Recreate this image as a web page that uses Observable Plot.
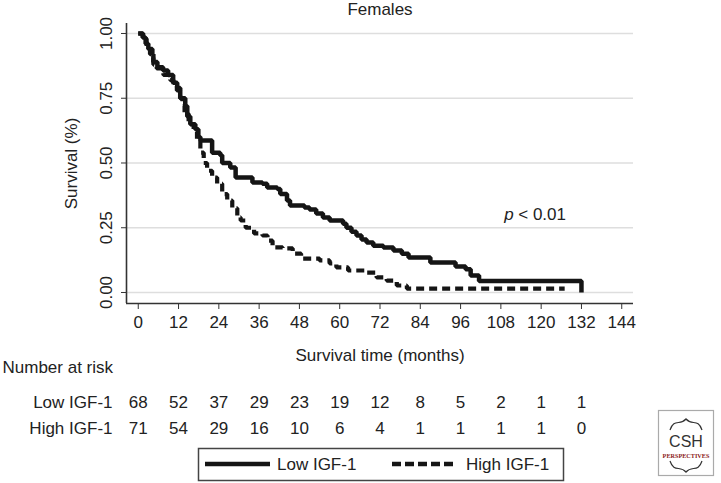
<!DOCTYPE html>
<html>
<head>
<meta charset="utf-8">
<script src="https://cdn.jsdelivr.net/npm/d3@7"></script>
<script src="https://cdn.jsdelivr.net/npm/@observablehq/plot@0.6"></script>
<style>
  html, body { margin: 0; padding: 0; background: #fff; }
  svg { display: block; }
</style>
</head>
<body>
<div id="chart"></div>
<script>
// ---- Data ----
const title = "Females";
const xLabel = "Survival time (months)";
const yLabel = "Survival (%)";
const seriesNames = ["Low IGF-1", "High IGF-1"];

// Low IGF-1 Kaplan–Meier steps (time in months, survival)
const lowTimes = [0, 1.3, 2.2, 3, 4.2, 4.5, 5.7, 7.4, 8.9, 10.4, 11.6, 12.5, 14, 14.6, 15.5, 17, 17.9, 18.5, 22, 24.4, 25, 27.4, 29, 34, 37, 38.4, 41.4, 42.3, 44.3, 45.2, 49.5, 51, 53, 55, 57, 61, 62, 63.5, 65, 66.5, 68, 70, 73, 76, 78.5, 80.5, 87, 94.5, 97.5, 99, 101.5, 132, 132];
const lowSurv  = [1, 0.985, 0.96, 0.94, 0.92, 0.89, 0.87, 0.857, 0.84, 0.81, 0.79, 0.75, 0.72, 0.68, 0.65, 0.63, 0.60, 0.587, 0.54, 0.53, 0.50, 0.483, 0.444, 0.425, 0.42, 0.405, 0.40, 0.38, 0.355, 0.336, 0.328, 0.32, 0.305, 0.29, 0.278, 0.265, 0.25, 0.235, 0.22, 0.205, 0.193, 0.18, 0.174, 0.162, 0.15, 0.135, 0.116, 0.10, 0.09, 0.066, 0.044, 0.044, 0];

// High IGF-1 Kaplan–Meier steps
const highTimes = [0, 1.5, 2.5, 3.5, 4.5, 5.5, 7.5, 9.5, 10.5, 11.5, 12.5, 13.2, 13.8, 15, 16.5, 17.5, 18.5, 19.5, 20.5, 22, 23.5, 25, 26.5, 28, 29.5, 30.5, 32, 34.5, 37, 38.5, 40, 43, 46, 48.5, 54, 57, 59, 62.5, 68, 71, 74, 77, 80, 127];
const highSurv  = [1, 0.98, 0.95, 0.92, 0.88, 0.865, 0.84, 0.82, 0.80, 0.78, 0.75, 0.72, 0.69, 0.65, 0.62, 0.59, 0.54, 0.50, 0.47, 0.444, 0.42, 0.38, 0.355, 0.325, 0.29, 0.278, 0.25, 0.228, 0.22, 0.20, 0.174, 0.17, 0.15, 0.131, 0.124, 0.112, 0.097, 0.085, 0.077, 0.058, 0.046, 0.027, 0.015, 0.015];

const xTicks = [0, 12, 24, 36, 48, 60, 72, 84, 96, 108, 120, 132, 144];
const yTicks = [0, 0.25, 0.5, 0.75, 1];

const riskTimes = [0, 12, 24, 36, 48, 60, 72, 84, 96, 108, 120, 132];
const lowRisk  = [68, 52, 37, 29, 23, 19, 12, 8, 5, 2, 1, 1];
const highRisk = [71, 54, 29, 16, 10, 6, 4, 1, 1, 1, 1, 0];
const riskTitle = "Number at risk";

const pItalic = "p";
const pRest = "< 0.01";
const pAt = {t: 109, s: 0.3};

const xDomain = [-3.5, 147.5];
const yDomain = [-0.0425, 1.0386];

// ---- Build tables ----
const lowData = lowTimes.map((t, i) => ({t, s: lowSurv[i]}));
const highData = highTimes.map((t, i) => ({t, s: highSurv[i]}));
const riskRows = riskTimes.map((t, i) => ({t, low: lowRisk[i], high: highRisk[i]}));

const ink = "#222";
const font = "'Liberation Sans', Arial, Helvetica, sans-serif";

const svg = Plot.plot({
  width: 721,
  height: 483,
  marginLeft: 126,
  marginRight: 88,
  marginTop: 23,
  marginBottom: 180,
  style: {fontFamily: font, fontSize: "17px", color: "#333", background: "#fff", overflow: "visible"},
  x: {domain: xDomain, axis: "bottom", ticks: xTicks, tickSize: 6, tickFormat: () => "", label: null},
  y: {domain: yDomain, axis: "left", ticks: yTicks, tickSize: 5, tickFormat: () => "", label: null},
  marks: [
    Plot.ruleY(yTicks, {y: d => d, stroke: "#dedede", strokeWidth: 1.6}),
    Plot.ruleX([xDomain[0]], {x: d => d, stroke: "#333", strokeWidth: 1.6}),
    Plot.ruleY([yDomain[0]], {y: d => d, stroke: "#333", strokeWidth: 1.6}),
    Plot.text(xTicks, {x: d => d, text: d => String(d), frameAnchor: "bottom", dy: 19, lineAnchor: "middle", fontSize: 17, fill: ink}),
    Plot.text(yTicks, {y: d => d, text: d => d.toFixed(2), frameAnchor: "left", textAnchor: "middle", dx: -20, rotate: -90, lineAnchor: "middle", fontSize: 17, fill: ink}),
    Plot.text([yLabel], {frameAnchor: "left", textAnchor: "middle", dx: -55, rotate: -90, lineAnchor: "middle", fontSize: 17, fill: ink}),
    Plot.text([xLabel], {frameAnchor: "bottom", dy: 52, lineAnchor: "middle", fontSize: 17, fill: ink}),
    Plot.text([title], {frameAnchor: "top", dy: -14, lineAnchor: "middle", fontSize: 17, fill: ink}),
    Plot.line(highData, {x: "t", y: "s", curve: "step-after", stroke: "#151515", strokeWidth: 4.2, strokeDasharray: "8,5", strokeLinecap: "butt", strokeLinejoin: "miter"}),
    Plot.line(lowData, {x: "t", y: "s", curve: "step-after", stroke: "#151515", strokeWidth: 4.5, strokeLinecap: "butt", strokeLinejoin: "miter"}),
    Plot.text([pItalic], {x: () => pAt.t, y: () => pAt.s, textAnchor: "start", lineAnchor: "middle", fontStyle: "italic", fontSize: 17, fill: ink}),
    Plot.text([pRest], {x: () => pAt.t, y: () => pAt.s, dx: 14, textAnchor: "start", lineAnchor: "middle", fontSize: 17, fill: ink}),
    Plot.text([riskTitle], {frameAnchor: "bottom-left", dx: -124, dy: 64, textAnchor: "start", lineAnchor: "middle", fontSize: 17, fill: ink}),
    Plot.text([seriesNames[0]], {frameAnchor: "bottom-left", dx: -14, dy: 99, textAnchor: "end", lineAnchor: "middle", fontSize: 17, fill: ink}),
    Plot.text([seriesNames[1]], {frameAnchor: "bottom-left", dx: -14, dy: 125, textAnchor: "end", lineAnchor: "middle", fontSize: 17, fill: ink}),
    Plot.text(riskRows, {x: "t", text: "low", frameAnchor: "bottom", dy: 99, lineAnchor: "middle", fontSize: 17, fill: ink}),
    Plot.text(riskRows, {x: "t", text: "high", frameAnchor: "bottom", dy: 125, lineAnchor: "middle", fontSize: 17, fill: ink})
  ]
});

// ---- Legend box ----
const s = d3.select(svg);
const lg = s.append("g").attr("font-family", font).attr("font-size", 17).attr("fill", ink).attr("text-anchor", "start");
lg.append("rect").attr("x", 198.5).attr("y", 448.5).attr("width", 365).attr("height", 32)
  .attr("fill", "none").attr("stroke", "#444").attr("stroke-width", 1.5);
lg.append("line").attr("x1", 205).attr("x2", 270).attr("y1", 464).attr("y2", 464)
  .attr("stroke", "#151515").attr("stroke-width", 4.5);
lg.append("text").attr("x", 277).attr("y", 464).attr("dy", "0.35em").attr("text-anchor", "start").text(seriesNames[0]);
lg.append("line").attr("x1", 392).attr("x2", 456).attr("y1", 464).attr("y2", 464)
  .attr("stroke", "#151515").attr("stroke-width", 4.5).attr("stroke-dasharray", "9,4");
lg.append("text").attr("x", 466).attr("y", 464).attr("dy", "0.35em").attr("text-anchor", "start").text(seriesNames[1]);

// ---- Publisher badge ----
const bg = s.append("g");
bg.append("rect").attr("x", 658.5).attr("y", 410.5).attr("width", 55).attr("height", 65)
  .attr("fill", "#fff").attr("stroke", "#aaa").attr("stroke-width", 1.2);
bg.append("path").attr("d", "M670,430 C674,418 680,426 686,419 C692,426 698,418 702,430")
  .attr("fill", "none").attr("stroke", "#333").attr("stroke-width", 1.2);
bg.append("path").attr("d", "M670,461 C674,473 680,465 686,472 C692,465 698,473 702,461")
  .attr("fill", "none").attr("stroke", "#333").attr("stroke-width", 1.2);
bg.append("text").attr("x", 686).attr("y", 447).attr("text-anchor", "middle")
  .attr("font-family", "'Liberation Sans', sans-serif").attr("font-size", 16).attr("fill", "#333").text("CSH");
bg.append("text").attr("x", 686).attr("y", 458).attr("text-anchor", "middle")
  .attr("font-family", "'Liberation Serif', serif").attr("font-size", 6.2).attr("font-weight", "bold").attr("fill", "#8b1a1a").text("PERSPECTIVES");

document.getElementById("chart").appendChild(svg);
</script>
</body>
</html>
